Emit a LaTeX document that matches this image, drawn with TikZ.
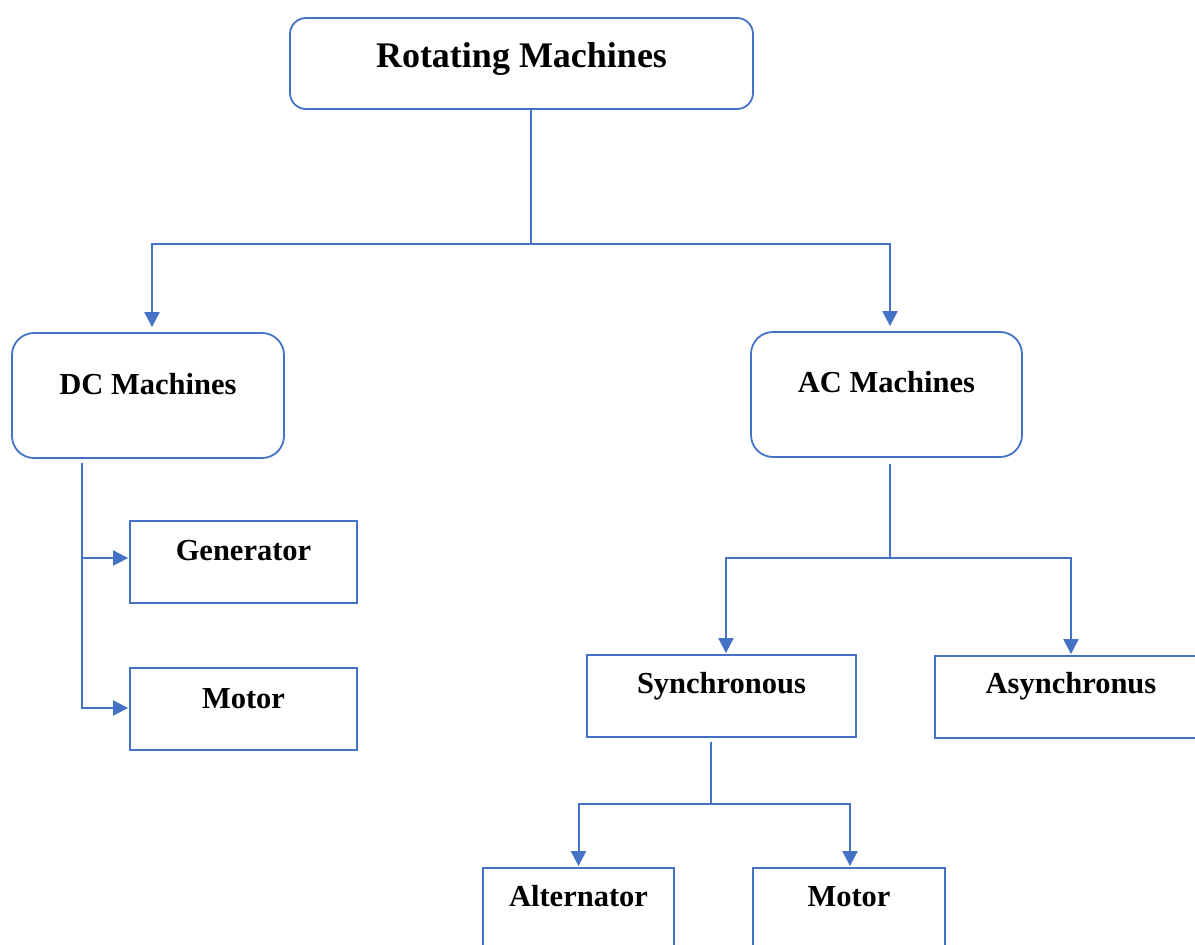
\documentclass[tikz,border=0pt]{standalone}
\usepackage{fontspec}
\setmainfont{Liberation Serif}
\usetikzlibrary{arrows.meta}
\definecolor{lineblue}{HTML}{4472C4}

\begin{document}
\begin{tikzpicture}[x=1pt,y=-1pt,
  box/.style={draw=lineblue,line width=1.8pt,rectangle,inner sep=0pt},
  rbox/.style={box,rounded corners=#1},
  lbl/.style={anchor=base,inner sep=0pt,font=\bfseries\fontsize{30.5}{36}\selectfont},
  ttl/.style={lbl,font=\bfseries\fontsize{36}{42}\selectfont},
  conn/.style={draw=lineblue,line width=2pt},
  arr/.style={conn,-{Triangle[width=15pt,length=15pt]},shorten >=5pt}]
\useasboundingbox (0,0) rectangle (1195,945);
\clip (0,0) rectangle (1195,945);
\fill[white] (0,0) rectangle (1195,945);

% boxes
\node[rbox=16pt,minimum width=463pt,minimum height=91pt] (root) at (521.5,63.5) {};
\node[rbox=22pt,minimum width=272pt,minimum height=125pt] (dc) at (148,395.5) {};
\node[rbox=22pt,minimum width=271pt,minimum height=125pt] (ac) at (886.5,394.5) {};
\node[box,minimum width=227pt,minimum height=82pt] (gen) at (243.5,562) {};
\node[box,minimum width=227pt,minimum height=82pt] (dcmot) at (243.5,709) {};
\node[box,minimum width=269pt,minimum height=82pt] (sync) at (721.5,696) {};
\node[box,minimum width=272pt,minimum height=82pt] (async) at (1071,697) {};
\node[box,minimum width=191pt,minimum height=82pt] (alt) at (578.5,909) {};
\node[box,minimum width=192pt,minimum height=82pt] (acmot) at (849,909) {};

% labels
\node[ttl] (tRoot) at (521.5,67) {Rotating Machines};
\node[lbl] (tDC) at (148,394) {DC Machines};
\node[lbl] (tAC) at (886.5,392) {AC Machines};
\node[lbl] (tGen) at (243.5,560) {Generator};
\node[lbl] (tDCmot) at (243.5,708) {Motor};
\node[lbl] (tSync) at (721.5,693) {Synchronous};
\node[lbl] (tAsync) at (1071,693) {Asynchronus};
\node[lbl] (tAlt) at (578.5,906) {Alternator};
\node[lbl] (tACmot) at (849,906) {Motor};

% junction points
\coordinate (top) at (531,244);
\coordinate (dcb) at (82,463);
\coordinate (acb) at (890,558);
\coordinate (sb) at (711,804);

% connectors
\draw[conn] (root.south -| top) -- (top);
\draw[arr] (top) -| ([xshift=4pt]dc.north);
\draw[arr] (top) -| ([xshift=3.5pt]ac.north);

\draw[conn] ([yshift=-5pt]dc.south -| dcb) -- (dcb);
\draw[arr,shorten >=1pt] (dcb) |- ([yshift=4pt]gen.west);
\draw[arr,shorten >=1pt] (dcb) |- ([yshift=1pt]dcmot.west);

\draw[conn] ([yshift=-6pt]ac.south -| acb) -- (acb);
\draw[arr,shorten >=1pt] (acb) -| ([xshift=4.5pt]sync.north);
\draw[arr,shorten >=1pt] (acb) -| (async.north);

\draw[conn] ([yshift=-4pt]sync.south -| sb) -- (sb);
\draw[arr,shorten >=1pt] (sb) -| (alt.north);
\draw[arr,shorten >=1pt] (sb) -| ([xshift=1pt]acmot.north);
\end{tikzpicture}
\end{document}
